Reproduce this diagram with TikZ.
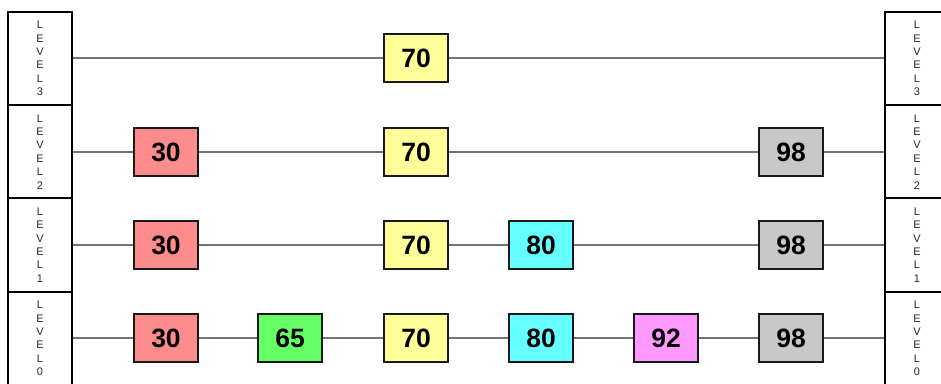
\documentclass[tikz,border=0pt]{standalone}
\usepackage{fontspec}
\setmainfont{Liberation Sans}
\definecolor{ccyan}{HTML}{66FFFF}
\definecolor{cmag}{HTML}{FF99FF}
\definecolor{cred}{HTML}{FF8C8C}
\definecolor{cgreen}{HTML}{66FF66}
\definecolor{cyel}{HTML}{FFFF99}
\definecolor{cgray}{HTML}{C8C8C8}
\begin{document}
\begin{tikzpicture}[x=1pt,y=-1pt,
  lvl/.style={draw=black,line width=2pt,fill=white,minimum width=64pt,minimum height=93.3pt,inner sep=0pt,align=center,font=\fontsize{11}{13.4}\selectfont,text=black!85},
  key/.style={draw=black!90,line width=2pt,minimum width=64pt,minimum height=48pt,inner sep=0pt,font=\fontsize{26.5}{26.5}\selectfont\bfseries},
  link/.style={draw=black!55,line width=2pt},
  keyred/.style={key,fill=cred},
  keygreen/.style={key,fill=cgreen},
  keyyellow/.style={key,fill=cyel},
  keycyan/.style={key,fill=ccyan},
  keymag/.style={key,fill=cmag},
  keygray/.style={key,fill=cgray}]
\useasboundingbox (0,0) rectangle (941,383);
% level boxes
\foreach \k/\yy in {3/58.5,2/151.8,1/245.1,0/338.4}{
  \node[lvl] (L\k) at (40,\yy) {L\\E\\V\\E\\L\\\k};
  \node[lvl] (R\k) at (917,\yy) {L\\E\\V\\E\\L\\\k};
}
% level 3
\node[keyyellow] (a70) at (416,58) {70};
% level 2
\node[keyred] (b30) at (166,152) {30};
\node[keyyellow] (b70) at (416,152) {70};
\node[keygray] (b98) at (791,152) {98};
% level 1
\node[keyred] (c30) at (166,245) {30};
\node[keyyellow] (c70) at (416,245) {70};
\node[keycyan] (c80) at (541,245) {80};
\node[keygray] (c98) at (791,245) {98};
% level 0
\node[keyred] (d30) at (166,338) {30};
\node[keygreen] (d65) at (290,338) {65};
\node[keyyellow] (d70) at (416,338) {70};
\node[keycyan] (d80) at (541,338) {80};
\node[keymag] (d92) at (666,338) {92};
\node[keygray] (d98) at (791,338) {98};
% links
\draw[link] (L3.east |- a70) -- (a70.west);
\draw[link] (a70.east) -- (R3.west |- a70);
\draw[link] (L2.east |- b30) -- (b30.west);
\draw[link] (b30) -- (b70) (b70) -- (b98);
\draw[link] (b98.east) -- (R2.west |- b98);
\draw[link] (L1.east |- c30) -- (c30.west);
\draw[link] (c30) -- (c70) (c70) -- (c80) (c80) -- (c98);
\draw[link] (c98.east) -- (R1.west |- c98);
\draw[link] (L0.east |- d30) -- (d30.west);
\draw[link] (d30) -- (d65) (d65) -- (d70) (d70) -- (d80) (d80) -- (d92) (d92) -- (d98);
\draw[link] (d98.east) -- (R0.west |- d98);
\end{tikzpicture}
\end{document}
